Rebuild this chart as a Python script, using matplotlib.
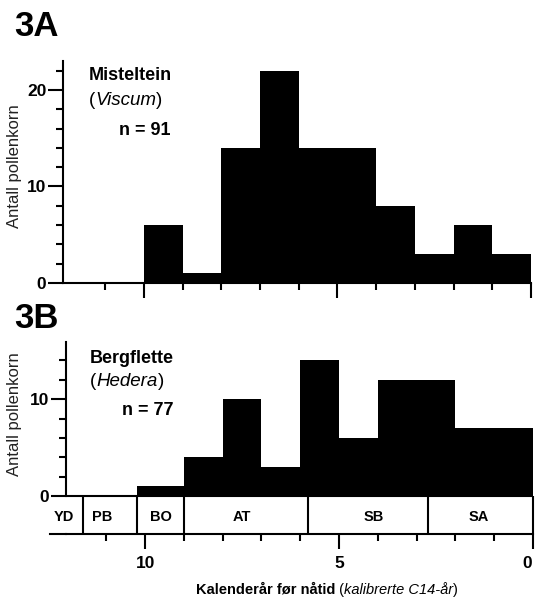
import matplotlib
matplotlib.use("Agg")
import matplotlib.pyplot as plt
import matplotlib.transforms as mtransforms
import numpy as np
from matplotlib.offsetbox import TextArea, HPacker, AnnotationBbox

plt.rcParams['font.family'] = ['Liberation Sans', 'DejaVu Sans']

# ---------------- data ----------------
edges_a = [10, 9, 8, 7, 6, 5, 4, 3, 2, 1, 0]
counts_a = [6, 1, 14, 22, 14, 14, 8, 3, 6, 3]
edges_b = [10.2, 9, 8, 7, 6, 5, 4, 3, 2, 1, 0]
counts_b = [1, 4, 10, 3, 14, 6, 12, 12, 7, 7]

zone_names = ["YD", "PB", "BO", "AT", "SB", "SA"]
zone_bounds = [11.6, 10.2, 9.0, 5.8, 2.7]

x_major = [10, 5, 0]
x_major_labels = ["10", "5", "0"]
x_minor = [11, 9, 8, 7, 6, 4, 3, 2, 1]
ya_major = [0, 10, 20]
ya_minor = [2, 4, 6, 8, 12, 14, 16, 18, 22]
yb_major = [0, 10]
yb_minor = [2, 4, 6, 8, 12, 14]

title_a, genus_a, n_a = "Misteltein", "Viscum", "n = 91"
title_b, genus_b, n_b = "Bergflette", "Hedera", "n = 77"
ylabel = "Antall pollenkorn"

# ---------------- layout ----------------
W, H = 536, 605
fig = plt.figure(figsize=(W / 100, H / 100), dpi=100)


def fx(px):
    return px / W


def fy(py):
    return 1 - py / H


ax_a = fig.add_axes([fx(63), fy(283), fx(531) - fx(63), fy(61) - fy(283)])
ax_b = fig.add_axes([fx(66), fy(534), fx(533) - fx(66), fy(342) - fy(534)])

LW = 1.5
ZONE_H = 3.92


def draw_hist(ax, edges, counts):
    e = np.asarray(edges, dtype=float)
    lo = e[1:]
    w = e[:-1] - e[1:]
    ax.bar(lo, counts, width=w, align='edge', color='black', linewidth=0)


def style(ax, ymaj, ymin):
    for s in ['top', 'right']:
        ax.spines[s].set_visible(False)
    for s in ['left', 'bottom']:
        ax.spines[s].set_linewidth(LW)
    ax.set_xticks(x_major)
    ax.set_xticks(x_minor, minor=True)
    ax.set_yticks(ymaj)
    ax.set_yticks(ymin, minor=True)
    ax.tick_params(which='major', length=11, width=LW, direction='out')
    ax.tick_params(which='minor', length=5, width=LW, direction='out')
    ax.tick_params(axis='y', which='major', pad=1, labelsize=12.5)
    ax.tick_params(axis='x', which='major', pad=5, labelsize=12.5)
    for lab in ax.get_yticklabels() + ax.get_xticklabels():
        lab.set_fontweight('bold')


# Panel A
draw_hist(ax_a, edges_a, counts_a)
ax_a.set_xlim(12.09, 0)
ax_a.set_ylim(0, 23)
style(ax_a, ya_major, ya_minor)
ax_a.set_xticklabels([])

# Panel B
draw_hist(ax_b, edges_b, counts_b)
ax_b.set_xlim(12.04, 0)
ax_b.set_ylim(-ZONE_H, 15.9)
style(ax_b, yb_major, yb_minor)
ax_b.set_xticklabels(x_major_labels)
for lab in ax_b.get_xticklabels():
    lab.set_fontweight('bold')
# keep the right-most "0" label inside the picture
last = ax_b.get_xticklabels()[-1]
last.set_transform(last.get_transform() +
                   mtransforms.ScaledTranslation(-4 / 72, 0, fig.dpi_scale_trans))
ax_b.spines['left'].set_bounds(0, 15.9)
ax_b.axhline(0, color='black', lw=LW)
ax_b.plot([-0.034, 0], [-ZONE_H, -ZONE_H], color='black', lw=LW,
          transform=ax_b.get_yaxis_transform(), clip_on=False)
ax_b.vlines(zone_bounds + [0], -ZONE_H, 0, color='black', lw=LW, clip_on=False)
zone_label_x = [12.1, 11.1, 9.6, 7.5, 4.1, 1.4]
for name, xl in zip(zone_names, zone_label_x):
    ax_b.text(xl, -ZONE_H / 2 - 0.2, name, ha='center', va='center',
              fontsize=10.5, fontweight='bold')

# Panel letters
fig.text(fx(14), fy(36), "3A", fontsize=25, fontweight='bold', va='baseline')
fig.text(fx(14), fy(328), "3B", fontsize=25, fontweight='bold', va='baseline')

# Annotations
for (t, g, n, x0, xn, yb) in [(title_a, genus_a, n_a, 89, 119, (80, 107, 135)),
                               (title_b, genus_b, n_b, 90, 122, (363, 388, 415))]:
    fig.text(fx(x0), fy(yb[0]), t, fontsize=13, fontweight='bold', va='baseline')
    gp = HPacker(children=[TextArea("(", textprops=dict(fontsize=13.5)),
                           TextArea(g, textprops=dict(fontsize=13.5, style='italic')),
                           TextArea(")", textprops=dict(fontsize=13.5))],
                 align='baseline', pad=0, sep=0)
    ab = AnnotationBbox(gp, (fx(x0), fy(yb[1]) - 0.004), xycoords='figure fraction',
                        box_alignment=(0, 0), frameon=False, pad=0)
    fig.add_artist(ab)
    fig.text(fx(xn), fy(yb[2]), n, fontsize=13, fontweight='bold', va='baseline')

# y labels
fig.text(fx(15), fy(166), ylabel, rotation=90, ha='center', va='center',
         fontsize=12, color='#222222')
fig.text(fx(15), fy(414), ylabel, rotation=90, ha='center', va='center',
         fontsize=12, color='#222222')

# x label
xl = HPacker(children=[TextArea("Kalenderår før nåtid", textprops=dict(fontsize=10.5, fontweight='bold')),
                       TextArea(" (", textprops=dict(fontsize=10.5)),
                       TextArea("kalibrerte C14-år", textprops=dict(fontsize=10.5, style='italic')),
                       TextArea(")", textprops=dict(fontsize=10.5))],
             align='baseline', pad=0, sep=0)
fig.add_artist(AnnotationBbox(xl, (fx(327), fy(590)), xycoords='figure fraction',
                              box_alignment=(0.5, 0.5), frameon=False, pad=0))

fig.savefig("out.png", dpi=100)
